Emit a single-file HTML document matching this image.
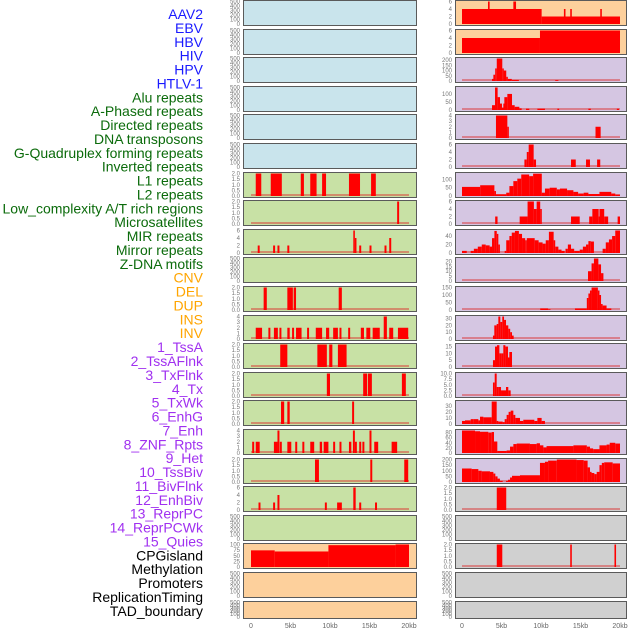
<!DOCTYPE html>
<html><head><meta charset="utf-8">
<style>
html,body{margin:0;padding:0;background:#fff;}
svg{display:block;}
</style></head>
<body>
<svg id="chart" width="630" height="630" viewBox="0 0 630 630" xmlns="http://www.w3.org/2000/svg"></svg>
<script>
// ---------- labels ----------
const trackLabels = ["AAV2","EBV","HBV","HIV","HPV","HTLV-1","Alu repeats","A-Phased repeats","Directed repeats","DNA transposons","G-Quadruplex forming repeats","Inverted repeats","L1 repeats","L2 repeats","Low_complexity A/T rich regions","Microsatellites","MIR repeats","Mirror repeats","Z-DNA motifs","CNV","DEL","DUP","INS","INV","1_TssA","2_TssAFlnk","3_TxFlnk","4_Tx","5_TxWk","6_EnhG","7_Enh","8_ZNF_Rpts","9_Het","10_TssBiv","11_BivFlnk","12_EnhBiv","13_ReprPC","14_ReprPCWk","15_Quies","CPGisland","Methylation","Promoters","ReplicationTiming","TAD_boundary"];
const labelGroups = ["v","v","v","v","v","v","r","r","r","r","r","r","r","r","r","r","r","r","r","s","s","s","s","s","c","c","c","c","c","c","c","c","c","c","c","c","c","c","c","o","o","o","o","o"];
const xTickLabels = ["0","5kb","10kb","15kb","20kb"];
const xTickValues = [0,5,10,15,20];

// ---------- left column data: [startKb, endKb, value] ----------
const L_empty = [];
const L_L1 = [[0.6,1.3,2],[2.5,3.9,2],[6.3,6.7,2],[7.5,8.3,2],[9.0,9.5,2],[12.4,13.8,2],[15.2,15.8,2]];
const L_L2 = [[18.5,18.75,2]];
const L_low = [[0.85,1.1,2],[2.8,3.05,2],[3.35,3.6,2],[4.6,4.85,2],[12.95,13.15,6],[13.15,13.35,4],[13.7,13.95,2],[15.0,15.25,2],[16.9,17.15,2],[17.5,17.75,4]];
const L_mir = [[1.6,2.0,2],[4.6,5.3,2],[5.4,5.7,2],[11.1,11.5,2]];
const L_mirror = [[0.6,1.4,2],[2.2,2.45,2],[2.9,3.4,2],[3.6,3.85,2],[4.6,4.9,2],[5.2,5.45,2],[5.7,6.4,2],[7.1,7.35,2],[8.2,9.0,2],[9.5,9.9,2],[10.4,11.0,2],[11.2,11.45,2],[12.3,12.55,2],[13.9,14.3,2],[14.6,15.1,2],[15.4,16.3,2],[16.8,17.2,4],[17.5,18.0,2],[18.6,19.9,2]];
const L_zdna = [[3.7,4.6,2],[8.4,9.6,2],[9.9,10.3,2],[11.0,12.1,2]];
const L_cnv = [[9.6,10.0,2],[14.2,14.7,2],[14.8,15.3,2],[19.1,19.6,2]];
const L_del = [[3.8,4.2,2],[4.6,4.9,2],[12.8,13.05,2]];
const L_dup = [[0.15,0.4,2],[0.6,1.1,2],[2.9,3.35,2],[3.35,3.6,4],[3.65,3.9,2],[4.6,5.1,2],[5.6,5.85,2],[6.5,6.75,2],[7.5,8.0,2],[8.7,9.0,2],[9.2,9.8,2],[10.4,10.65,2],[11.2,11.45,2],[12.4,12.7,2],[12.9,13.15,4],[13.15,13.4,2],[13.7,13.95,2],[14.1,14.35,2],[15.0,15.25,4],[15.6,16.1,2],[17.8,18.5,2]];
const L_ins = [[8.1,8.6,2],[15.1,15.35,2],[19.4,19.9,2]];
const L_inv = [[0.95,1.2,2],[2.8,3.05,2],[3.35,3.6,4],[9.35,9.6,2],[10.9,11.5,2],[12.95,13.25,6],[13.7,13.95,2],[15.7,15.95,2]];
const L_cpg = [[0,3.0,74],[3.0,9.8,69],[9.8,18.3,97],[18.3,20,100]];

// ---------- right column data ----------
const R_aav2 = [[0,10.08,4],[3.29,3.5,6],[6.5,6.84,6],[10.08,20,2],[12.9,13.1,4],[13.7,13.9,4],[17.5,17.7,4]];
const R_ebv = [[0,9.87,4],[9.87,20,6]];
const R_hiv = [[3.8,3.97,20],[3.97,4.2,60],[4.2,4.4,120],[4.4,5.1,215],[5.1,5.27,120],[5.27,5.6,100],[5.6,5.8,40],[5.8,6.3,20],[6.3,7.2,10],[11.8,12.2,8]];
const R_hpv = [[3.8,4.18,30],[4.18,4.51,140],[4.51,4.81,80],[4.81,5.06,40],[5.06,5.23,15],[5.23,5.36,40],[5.36,5.74,80],[5.74,6.33,100],[6.33,6.67,30],[6.67,7.26,20],[7.26,7.55,10],[8.1,8.52,8],[9.54,10.5,8],[12.07,12.3,8],[16.0,16.3,8],[19.6,19.87,8]];
const R_htlv = [[4.3,5.74,4],[5.74,5.9,2],[16.9,17.55,2]];
const R_alu = [[7.9,8.2,2],[8.2,8.44,4],[8.44,9.07,6],[9.07,9.37,2],[13.8,14.4,2],[15.7,16.2,2],[17.1,17.5,2]];
const R_aph = [[0,2.3,55],[2.3,4.1,65],[4.1,4.3,30],[4.3,5.6,10],[5.6,6.0,20],[6.0,6.5,60],[6.5,7.0,90],[7.0,7.5,105],[7.5,8.5,130],[8.5,9.0,120],[9.0,10.1,135],[10.1,10.5,20],[10.5,11.1,45],[11.1,12.0,50],[12.0,12.4,40],[12.4,13.3,45],[13.3,14.1,35],[14.1,14.7,25],[14.7,15.4,15],[15.4,16.0,20],[16.0,17.4,12],[17.4,18.9,25],[18.9,19.4,15],[19.4,20,8]];
const R_dir = [[4.2,4.5,2],[7.3,8.3,2],[8.3,9.1,6],[9.1,9.45,4],[9.45,9.9,6],[9.9,10.1,4],[13.8,14.9,2],[16.1,16.5,2],[16.5,17.3,4],[17.3,17.4,2],[17.4,18.0,4],[18.0,18.5,2],[19.7,20,2]];
const R_dna = [[0,0.6,5],[1.1,1.5,5],[1.5,2.0,10],[2.0,2.5,15],[2.5,3.0,20],[3.0,3.5,18],[3.5,3.8,15],[3.8,4.1,35],[4.1,4.4,52],[4.4,4.6,45],[4.6,4.8,20],[5.4,5.6,5],[5.6,6.0,30],[6.0,6.3,40],[6.3,6.7,48],[6.7,7.2,52],[7.2,7.6,45],[7.6,8.0,35],[8.0,8.2,30],[8.2,9.2,35],[9.2,9.7,30],[9.7,10.2,25],[10.2,10.6,22],[10.6,11.0,30],[11.0,11.6,50],[11.6,11.8,30],[11.8,12.2,15],[12.2,12.6,8],[12.6,13.0,5],[13.1,13.4,10],[13.4,13.8,20],[13.8,14.2,10],[14.2,14.9,5],[14.9,15.3,8],[15.3,15.7,15],[15.7,16.0,20],[16.0,16.3,28],[16.3,16.7,27],[17.8,18.2,10],[18.2,18.6,25],[18.6,19.0,32],[19.0,19.4,40],[19.4,20,53]];
const R_gq = [[15.95,16.4,10],[16.4,16.7,18],[16.7,17.26,23],[17.26,17.6,17],[17.6,17.9,8]];
const R_inv = [[9.9,10.9,10],[10.9,11.2,5],[14.3,15.8,10],[15.8,16.0,80],[16.0,16.2,110],[16.2,16.4,130],[16.4,17.2,150],[17.2,17.4,130],[17.4,17.6,100],[17.6,17.8,40],[17.8,18.3,30],[18.3,18.9,10]];
const R_l1 = [[3.92,4.09,5],[4.09,4.39,20],[4.39,4.6,22],[4.6,4.85,33],[4.85,5.1,25],[5.1,5.32,33],[5.32,5.57,28],[5.57,5.86,20],[5.86,6.1,15],[6.1,6.33,10],[6.33,6.54,5]];
const R_l2 = [[3.92,4.18,5],[4.18,4.43,15],[4.43,4.73,16],[4.73,4.98,10],[4.98,5.23,10],[5.23,5.49,16],[5.49,5.82,15],[5.82,5.99,7],[5.99,6.33,11]];
const R_low = [[3.92,4.14,6],[4.14,4.39,10],[4.39,4.6,4],[4.6,4.94,4],[4.94,5.57,2.5],[5.57,5.86,4],[5.86,6.16,2.5]];
const R_micro = [[0,0.38,5],[0.38,1.1,6],[1.1,1.43,8],[1.43,2.07,8],[2.07,2.28,6],[2.28,2.7,12],[2.7,3.76,11],[3.76,4.39,37],[4.39,4.6,5],[4.6,5.15,4],[5.15,5.4,3],[5.4,5.65,8],[5.65,5.9,15],[5.9,6.16,20],[6.16,6.5,22],[6.5,6.75,15],[6.75,7.34,10],[7.34,7.76,5],[7.76,9.16,7],[9.16,9.54,5],[9.54,10.08,10],[10.08,10.5,5]];
const R_mir = [[0,1.65,88],[1.65,2.28,85],[2.28,3.33,83],[3.33,3.76,80],[3.76,4.05,82],[4.05,4.47,45],[4.47,5.65,8],[5.65,6.08,10],[6.08,6.5,25],[6.5,6.92,35],[6.92,8.6,37],[8.6,9.45,35],[9.45,9.87,38],[9.87,10.3,30],[10.3,10.7,22],[10.7,14.1,27],[14.1,15.8,30],[15.8,16.2,25],[16.2,16.6,18],[16.6,17.4,15],[17.4,18.3,30],[18.3,18.7,33],[18.7,19.4,40],[19.4,20,37]];
const R_mirror = [[0,1.22,120],[1.22,2.07,115],[2.07,2.49,100],[2.49,3.54,95],[3.54,3.97,90],[3.97,4.22,75],[4.22,4.5,50],[4.5,4.8,30],[4.8,5.15,10],[5.57,5.82,10],[5.82,6.08,20],[6.08,6.33,40],[6.33,7.34,55],[7.34,9.87,60],[9.87,10.5,170],[10.5,10.9,180],[10.9,12.0,190],[12.0,14.5,200],[14.5,15.4,195],[15.4,15.9,190],[15.9,16.2,130],[16.2,16.4,90],[16.4,16.75,80],[16.75,17.05,70],[17.05,17.4,90],[17.4,17.7,150],[17.7,18.0,170],[18.0,19.07,175],[19.07,20,165]];
const R_zdna = [[4.4,5.6,2]];
const R_cpg = [[4.4,5.1,2],[13.7,13.9,2],[19.3,19.5,2]];

const ticks500 = [0,100,200,300,400,500];
const ticks2 = [0,0.5,1,1.5,2];
const ticks4 = [0,1,2,3,4];
const ticks6 = [0,2,4,6];

const BLUE="#c9e4ec", GREEN="#c8e1a5", ORANGE="#fdd09c", PURPLE="#d5c6e2", GREY="#d0d0d0";
const leftPanels = [
 {n:"aav2",bg:BLUE,max:500,t:ticks500,d:L_empty},
 {n:"ebv",bg:BLUE,max:500,t:ticks500,d:L_empty},
 {n:"hbv",bg:BLUE,max:500,t:ticks500,d:L_empty},
 {n:"hiv",bg:BLUE,max:500,t:ticks500,d:L_empty},
 {n:"hpv",bg:BLUE,max:500,t:ticks500,d:L_empty},
 {n:"htlv",bg:BLUE,max:500,t:ticks500,d:L_empty},
 {n:"l1",bg:GREEN,max:2,t:ticks2,d:L_L1,f:1},
 {n:"l2",bg:GREEN,max:2,t:ticks2,d:L_L2,f:1},
 {n:"low-complexity",bg:GREEN,max:6,t:ticks6,d:L_low},
 {n:"microsatellites",bg:GREEN,max:500,t:ticks500,d:L_empty},
 {n:"mir",bg:GREEN,max:2,t:ticks2,d:L_mir,f:1},
 {n:"mirror",bg:GREEN,max:4,t:ticks4,d:L_mirror},
 {n:"zdna",bg:GREEN,max:2,t:ticks2,d:L_zdna,f:1},
 {n:"cnv",bg:GREEN,max:2,t:ticks2,d:L_cnv,f:1},
 {n:"del",bg:GREEN,max:2,t:ticks2,d:L_del,f:1},
 {n:"dup",bg:GREEN,max:4,t:ticks4,d:L_dup},
 {n:"ins",bg:GREEN,max:2,t:ticks2,d:L_ins,f:1},
 {n:"inv",bg:GREEN,max:6,t:ticks6,d:L_inv},
 {n:"state-empty",bg:GREEN,max:500,t:ticks500,d:L_empty},
 {n:"cpg",bg:ORANGE,max:100,t:[0,25,50,75,100],d:L_cpg,nb:1},
 {n:"promoters",bg:ORANGE,max:500,t:ticks500,d:L_empty},
 {n:"tad",bg:ORANGE,max:500,t:ticks500,d:L_empty}
];
const rightPanels = [
 {n:"aav2",bg:ORANGE,max:6,t:ticks6,d:R_aav2,nb:1},
 {n:"ebv",bg:ORANGE,max:6,t:ticks6,d:R_ebv,nb:1},
 {n:"hiv",bg:PURPLE,max:215,t:[0,50,100,150,200],d:R_hiv},
 {n:"hpv",bg:PURPLE,max:140,t:[0,50,100],d:R_hpv},
 {n:"htlv",bg:PURPLE,max:4,t:ticks4,d:R_htlv},
 {n:"alu",bg:PURPLE,max:6,t:ticks6,d:R_alu},
 {n:"a-phased",bg:PURPLE,max:136,t:[0,50,100],d:R_aph},
 {n:"directed",bg:PURPLE,max:6,t:ticks6,d:R_dir},
 {n:"dna-transposons",bg:PURPLE,max:53,t:[0,20,40],d:R_dna},
 {n:"g-quadruplex",bg:PURPLE,max:23,t:[0,5,10,15,20],d:R_gq},
 {n:"inverted",bg:PURPLE,max:150,t:[0,50,100,150],d:R_inv},
 {n:"l1",bg:PURPLE,max:33,t:[0,10,20,30],d:R_l1},
 {n:"l2",bg:PURPLE,max:16.5,t:[0,5,10,15],d:R_l2},
 {n:"low-complexity",bg:PURPLE,max:10,t:[0,2.5,5,7.5,10],d:R_low,f:1},
 {n:"microsatellites",bg:PURPLE,max:37,t:[0,10,20,30],d:R_micro},
 {n:"mir",bg:PURPLE,max:88,t:[0,20,40,60,80],d:R_mir},
 {n:"mirror",bg:PURPLE,max:200,t:[0,50,100,150,200],d:R_mirror},
 {n:"zdna",bg:GREY,max:2,t:ticks2,d:R_zdna,f:1},
 {n:"cnv",bg:GREY,max:500,t:ticks500,d:L_empty},
 {n:"cpg",bg:GREY,max:2,t:ticks2,d:R_cpg,f:1},
 {n:"promoters",bg:GREY,max:500,t:ticks500,d:L_empty},
 {n:"tad",bg:GREY,max:500,t:ticks500,d:L_empty}
];

const svg = document.getElementById('chart');
const NS = "http://www.w3.org/2000/svg";
function mk(tag, attrs, parent){
  const e = document.createElementNS(NS, tag);
  for (const k in attrs) e.setAttribute(k, attrs[k]);
  (parent||svg).appendChild(e);
  return e;
}
const colors = {v:"#1a1aff", r:"#0b6b0b", s:"#ffa500", c:"#a030f0", o:"#000"};
trackLabels.forEach((t,i)=>{
  const e = mk('text',{x:203,y:19+i*13.88,'text-anchor':'end','font-size':14,'font-family':'Liberation Sans, sans-serif',fill:colors[labelGroups[i]]});
  e.textContent = t;
  
  
});

function drawColumn(panels, left, right, x0, x20, side){
  const xs = kb => x0 + (x20-x0)*kb/20;
  panels.forEach((p,i)=>{
    const top = Math.round(i*28.6);
    const h = i===21 ? 17 : 25;
    const g = mk('g',{});
    
    
    mk('rect',{x:left+0.5,y:top+0.5,width:right-left,height:h,fill:p.bg,stroke:'#5a5a5a','stroke-width':1},g);
    const yb = top+h-1, yt = top+1.5;
    const ys = v => yb - (yb-yt)*v/p.max;
    p.t.forEach(tv=>{
      const tx = mk('text',{x:left-3,y:ys(tv)+2,'text-anchor':'end','font-size':6,'font-family':'Liberation Sans, sans-serif',fill:'#777'},g);
      tx.textContent = p.f ? tv.toFixed(1) : String(tv);
      
      
    });
    if (p.d.length && !p.nb){
      const bl = mk('rect',{x:xs(0),y:yb-2,width:xs(20)-xs(0),height:2,fill:'rgba(220,40,40,0.45)'},g);
      
      
    }
    p.d.forEach(s=>{
      const r = mk('rect',{x:xs(s[0]),y:ys(s[2]),width:Math.max(1.5,xs(s[1])-xs(s[0])),height:yb-ys(s[2]),fill:'#ff0000'},g);
      
      
    });
  });
  xTickValues.forEach((v,i)=>{
    const tx = mk('text',{x:xs(v),y:628,'text-anchor':'middle','font-size':7,'font-family':'Liberation Sans, sans-serif',fill:'#666'});
    tx.textContent = xTickLabels[i];
    
    
  });
}
drawColumn(leftPanels, 243, 416, 251, 409, 'left');
drawColumn(rightPanels, 455, 626, 462, 620, 'right');
</script>
</body></html>
